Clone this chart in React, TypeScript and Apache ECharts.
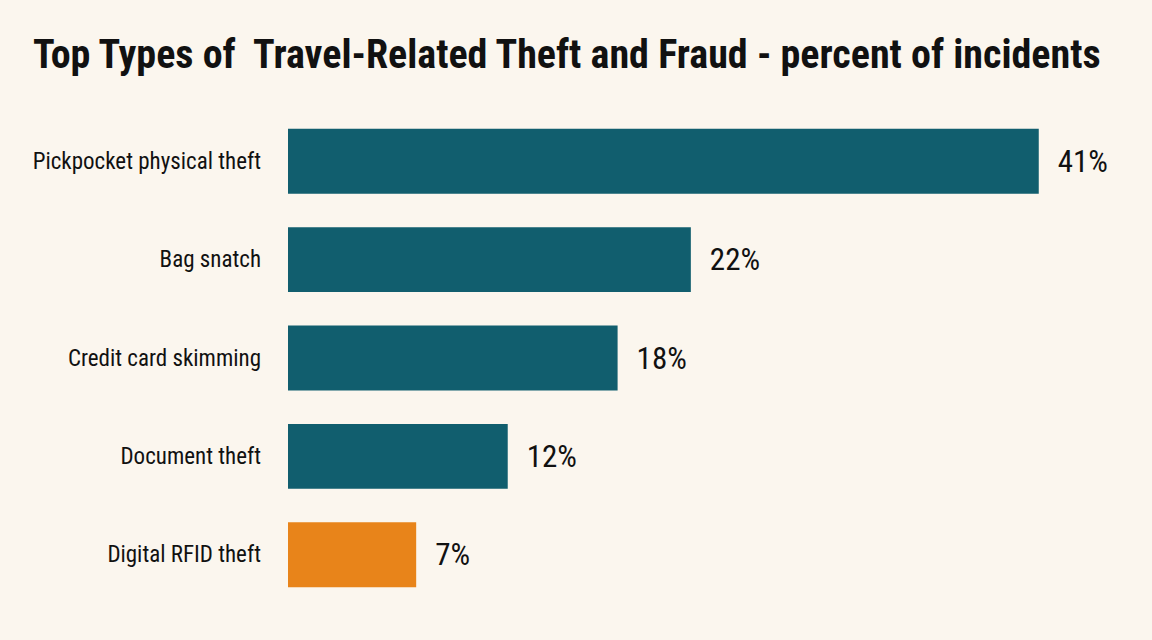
import React, { useEffect, useRef } from "react";
import * as echarts from "echarts";

const categories = [
  "Pickpocket physical theft",
  "Bag snatch",
  "Credit card skimming",
  "Document theft",
  "Digital RFID theft",
];
const values = [41, 22, 18, 12, 7];
const barColors = ["#115E6E", "#115E6E", "#115E6E", "#115E6E", "#E8841A"];
const titleText = "Top Types of  Travel-Related Theft and Fraud - percent of incidents";

const FONT = "'Liberation Sans Narrow', 'Roboto Condensed', 'DejaVu Sans Condensed', 'Liberation Sans', sans-serif";

export default function App() {
  const ref = useRef<HTMLDivElement>(null);
  useEffect(() => {
    if (!ref.current) return;
    const chart = echarts.init(ref.current, undefined, { renderer: "svg" });
    chart.setOption({
      animation: false,
      backgroundColor: "#FBF6EE",
      title: {
        text: titleText,
        left: 28,
        top: 29,
        textStyle: {
          fontFamily: FONT,
          fontWeight: "bold",
          fontSize: 40,
          color: "#111111",
        },
      },
      grid: { left: 288, right: 40, top: 112, bottom: 36, containLabel: false },
      xAxis: {
        type: "value",
        min: 0,
        max: 45,
        show: false,
      },
      yAxis: {
        type: "category",
        inverse: true,
        data: categories,
        axisLine: { show: false },
        axisTick: { show: false },
        splitLine: { show: false },
        axisLabel: {
          margin: 27,
          fontFamily: FONT,
          fontSize: 23,
          color: "#111111",
        },
      },
      series: [
        {
          type: "bar",
          barCategoryGap: "34%",
          data: values.map((v, i) => ({ value: v, itemStyle: { color: barColors[i] } })),
          label: {
            show: true,
            position: "right",
            distance: 19,
            formatter: "{c}%",
            fontFamily: FONT,
            fontSize: 31,
            color: "#111111",
          },
        },
      ],
    });
    return () => chart.dispose();
  }, []);
  return <div ref={ref} style={{ width: 1152, height: 640, position: "fixed", left: 0, top: 0 }} />;
}
